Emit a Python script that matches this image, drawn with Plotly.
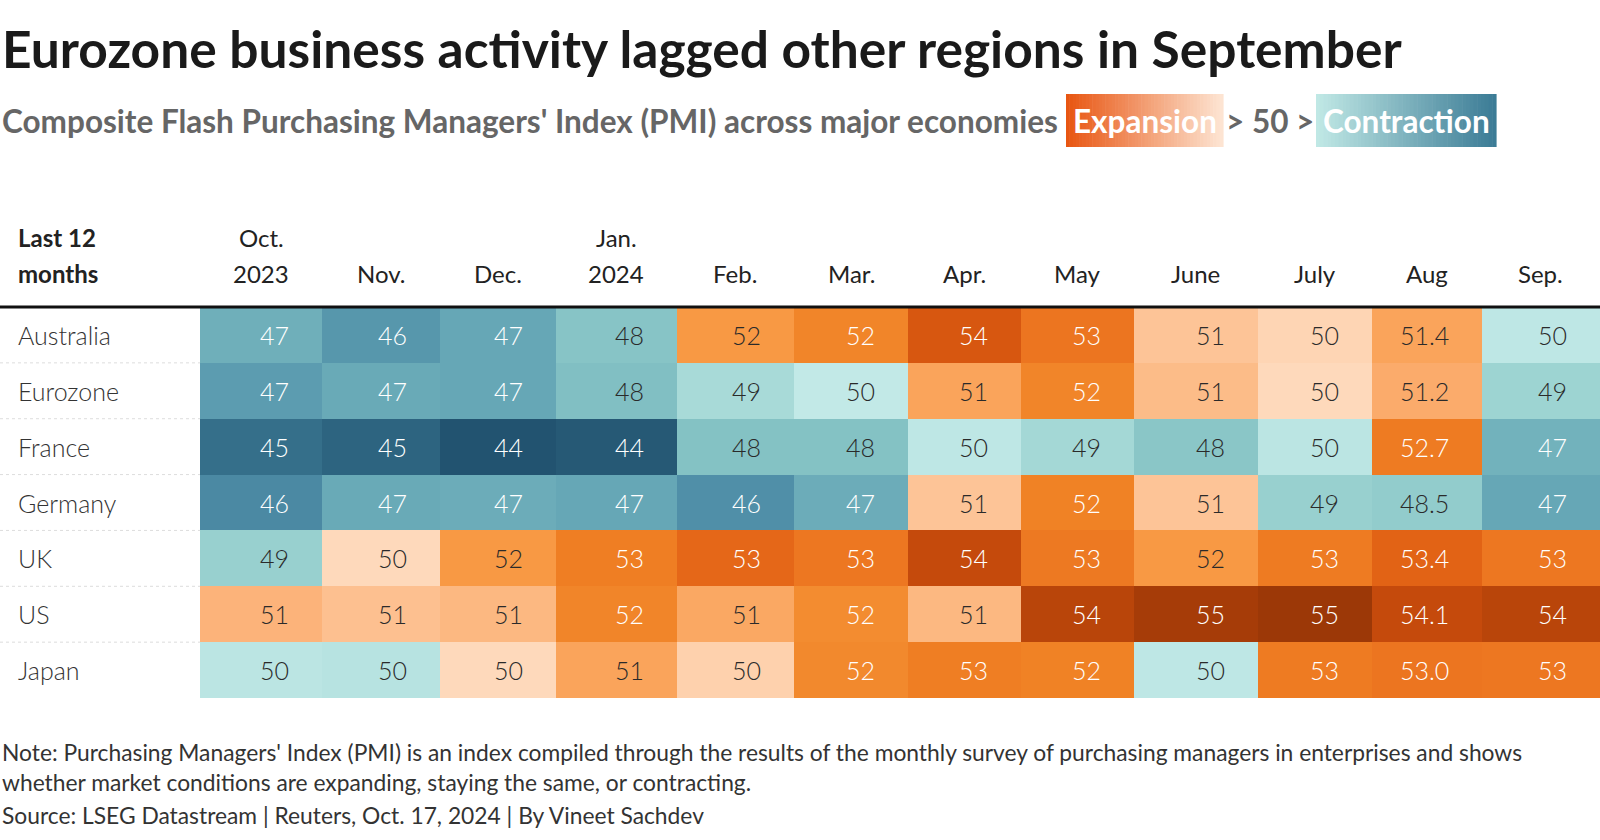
import plotly.graph_objects as go

# ---------------- data ----------------
countries = ["Australia", "Eurozone", "France", "Germany", "UK", "US", "Japan"]
month_lines = [("Oct.", "2023"), ("", "Nov."), ("", "Dec."), ("Jan.", "2024"), ("", "Feb."),
               ("", "Mar."), ("", "Apr."), ("", "May"), ("", "June"), ("", "July"),
               ("", "Aug"), ("", "Sep.")]
label_decimals = [0, 0, 0, 0, 0, 0, 0, 0, 0, 0, 1, 0]

australia = [47.3, 46.4, 47.0, 48.1, 51.7, 52.3, 53.7, 53.0, 50.6, 50.2, 51.4, 49.8]
eurozone  = [46.6, 47.1, 47.0, 47.9, 49.2, 49.9, 51.4, 52.3, 50.8, 50.1, 51.2, 48.9]
france    = [45.0, 44.6, 43.8, 44.2, 48.0, 48.0, 49.8, 49.1, 48.2, 49.7, 52.7, 47.4]
germany   = [45.9, 47.1, 47.2, 47.0, 46.1, 47.2, 50.6, 52.4, 50.6, 48.7, 48.5, 47.0]
uk        = [48.7, 50.1, 51.7, 52.6, 53.3, 52.9, 54.1, 52.8, 51.7, 52.7, 53.4, 52.9]
us        = [51.0, 50.7, 50.9, 52.3, 51.3, 52.1, 50.9, 54.4, 54.8, 55.0, 54.1, 54.4]
japan     = [49.7, 49.6, 50.1, 51.4, 50.3, 52.2, 52.6, 52.4, 49.8, 52.7, 53.0, 52.9]

z = [australia, eurozone, france, germany, uk, us, japan]

title = "Eurozone business activity lagged other regions in September"
subtitle = "Composite Flash Purchasing Managers' Index (PMI) across major economies"
note1 = ("Note: Purchasing Managers' Index (PMI) is an index compiled through the results of the monthly "
         "survey of purchasing managers in enterprises and shows")
note2 = "whether market conditions are expanding, staying the same, or contracting."
source = "Source: LSEG Datastream | Reuters, Oct. 17, 2024 | By Vineet Sachdev"

# ---------------- layout / style ----------------
W, H = 1600, 840
FONT = "Lato"
LIGHT = "Lato Light, Lato"
table_left = 200
col_widths = [122.4, 117.4, 116.3, 120.4, 117.4, 114.3, 113.2, 112.3, 124.5, 114.2, 109.2, 118.4]
table_top, row_h = 307, 55.86
col_edges = [table_left]
for w in col_widths:
    col_edges.append(col_edges[-1] + w)
row_edges = [table_top + i * row_h for i in range(len(countries) + 1)]

zmin, zmax = 44.0, 55.0
stops = [
    (44.0, "#225370"), (45.0, "#356f8a"), (46.0, "#4d8ca6"), (47.0, "#66a7b6"),
    (48.0, "#84c2c4"), (49.0, "#a0d6d4"), (49.95, "#c4eae8"), (50.05, "#fedbbf"),
    (50.6, "#fdc497"), (51.2, "#fbab6b"), (51.8, "#f7963c"), (52.4, "#f08225"),
    (53.0, "#ec7520"), (53.5, "#e05e12"), (54.0, "#c94c0c"), (54.5, "#b5430a"),
    (55.0, "#9c3807"),
]
colorscale = [[(v - zmin) / (zmax - zmin), c] for v, c in stops]

fig = go.Figure()
fig.add_trace(go.Heatmap(
    z=z, x=col_edges, y=row_edges, colorscale=colorscale, zmin=zmin, zmax=zmax,
    showscale=False, hoverinfo="skip",
))

ann = []
shapes = []

# title & subtitle
ann.append(dict(x=0, y=48, text="<b>" + title + "</b>", xanchor="left", yanchor="middle",
                font=dict(family=FONT, size=51.5, color="#1a1a1a"), showarrow=False))
ann.append(dict(x=0, y=121, text="<b>" + subtitle + "</b>", xanchor="left", yanchor="middle",
                font=dict(family=FONT, size=31.5, color="#666666"), showarrow=False))


def lerp(c1, c2, t):
    return "rgb(%d,%d,%d)" % tuple(round(a + (b - a) * t) for a, b in zip(c1, c2))


def gradient_box(x0, x1, y0, y1, c_left, c_right, n=48):
    step = (x1 - x0) / n
    for i in range(n):
        shapes.append(dict(type="rect", xref="x", yref="y", x0=x0 + i * step, x1=x0 + (i + 1) * step + 0.6,
                           y0=y0, y1=y1, line=dict(width=0),
                           fillcolor=lerp(c_left, c_right, i / (n - 1)), layer="below"))


gradient_box(1066, 1223, 94, 147, (232, 86, 18), (253, 228, 210))
gradient_box(1316, 1496, 94, 147, (192, 232, 229), (60, 124, 150))
ann.append(dict(x=1144.5, y=121, text="<b>Expansion</b>", xanchor="center", yanchor="middle",
                font=dict(family=FONT, size=31.5, color="white"), showarrow=False))
ann.append(dict(x=1269.5, y=121, text="<b>> 50 ></b>", xanchor="center", yanchor="middle",
                font=dict(family=FONT, size=31.5, color="#666666"), showarrow=False))
ann.append(dict(x=1406, y=121, text="<b>Contraction</b>", xanchor="center", yanchor="middle",
                font=dict(family=FONT, size=31.5, color="white"), showarrow=False))

# header
hdr_font = dict(family=FONT, size=24, color="#222222")
ann.append(dict(x=16, y=237, text="<b>Last 12</b>", xanchor="left", yanchor="middle",
                font=hdr_font, showarrow=False))
ann.append(dict(x=16, y=273.5, text="<b>months</b>", xanchor="left", yanchor="middle",
                font=hdr_font, showarrow=False))
for j, (l1, l2) in enumerate(month_lines):
    cx = (col_edges[j] + col_edges[j + 1]) / 2
    if l1:
        ann.append(dict(x=cx, y=237, text=l1, xanchor="center", yanchor="middle",
                        font=hdr_font, showarrow=False))
    ann.append(dict(x=cx, y=273.5, text=l2, xanchor="center", yanchor="middle",
                    font=hdr_font, showarrow=False))

shapes.append(dict(type="line", xref="x", yref="y", x0=0, x1=W, y0=table_top, y1=table_top,
                   line=dict(color="#111111", width=3)))

# rows
for i, name in enumerate(countries):
    cy = (row_edges[i] + row_edges[i + 1]) / 2
    ann.append(dict(x=16, y=cy, text=name, xanchor="left", yanchor="middle",
                    font=dict(family=LIGHT, size=25, color="#333333"), showarrow=False))
    if i > 0:
        shapes.append(dict(type="line", xref="x", yref="y", x0=0, x1=table_left,
                           y0=row_edges[i], y1=row_edges[i], line=dict(color="#dddddd", width=1, dash="dot")))
    for j, v in enumerate(z[i]):
        txt = f"{v:.{label_decimals[j]}f}"
        col = "white" if (v < 47.6 or v >= 52.0) else "#2a2a2a"
        ann.append(dict(x=col_edges[j + 1], y=cy, text=txt, xanchor="right", yanchor="middle",
                        xshift=-31, font=dict(family=LIGHT, size=25, color=col),
                        showarrow=False))

# footer
foot_font = dict(family=FONT, size=22.8, color="#333333")
for y, t in [(752, note1), (782, note2), (815, source)]:
    ann.append(dict(x=0, y=y, text=t, xanchor="left", yanchor="middle", font=foot_font, showarrow=False))

fig.update_layout(
    width=W, height=H, margin=dict(l=0, r=0, t=0, b=0),
    paper_bgcolor="white", plot_bgcolor="white",
    xaxis=dict(range=[0, W], visible=False, fixedrange=True),
    yaxis=dict(range=[H, 0], visible=False, fixedrange=True),
    annotations=ann, shapes=shapes, showlegend=False,
)

fig.write_html("out.html", post_script="document.body.style.margin='0';",
               config={"displayModeBar": False})
